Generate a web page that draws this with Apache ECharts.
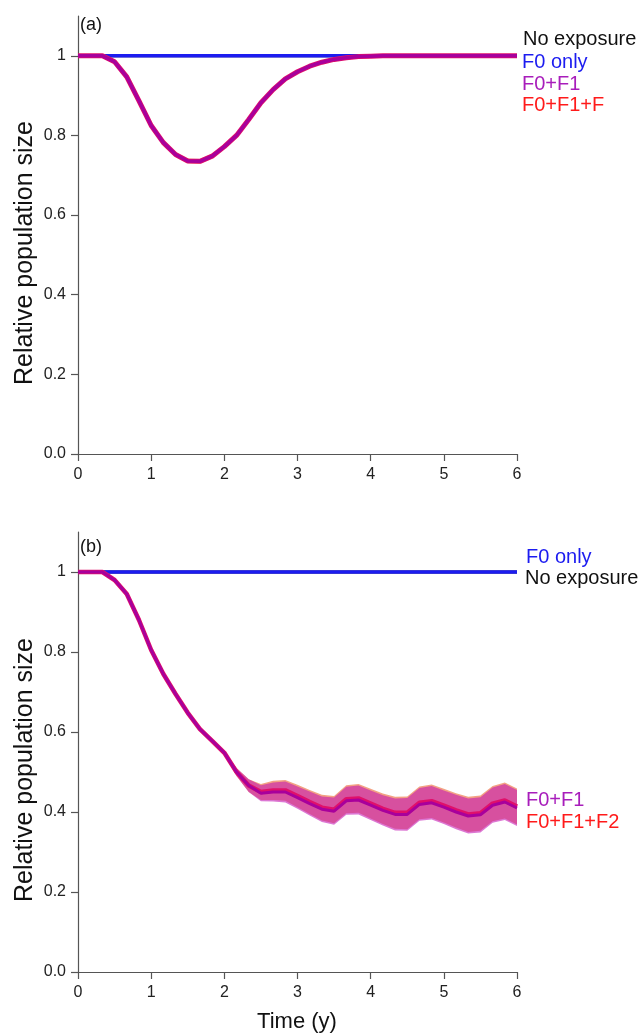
<!DOCTYPE html>
<html>
<head>
<meta charset="utf-8">
<script src="https://cdn.jsdelivr.net/npm/echarts@6/dist/echarts.min.js"></script>
<style>
html,body{margin:0;padding:0;background:#fff;}
#c{width:642px;height:1036px;}
</style>
</head>
<body>
<div id="c"></div>
<script>
// ---------- data ----------
const time = [0, 0.1667, 0.3333, 0.5, 0.6667, 0.8333, 1, 1.1667, 1.3333, 1.5, 1.6667, 1.8333, 2, 2.1667, 2.3333, 2.5, 2.6667, 2.8333, 3, 3.1667, 3.3333, 3.5, 3.6667, 3.8333, 4, 4.1667, 4.3333, 4.5, 4.6667, 4.8333, 5, 5.1667, 5.3333, 5.5, 5.6667, 5.8333, 6];
const xTicks = [0, 1, 2, 3, 4, 5, 6];
const yTicks = [0, 0.2, 0.4, 0.6, 0.8, 1];

// panel (a)
const noExposureA = [1,1,1,1,1,1,1,1,1,1,1,1,1,1,1,1,1,1,1,1,1,1,1,1,1,1,1,1,1,1,1,1,1,1,1,1,1];
const f0OnlyA     = [1,1,1,1,1,1,1,1,1,1,1,1,1,1,1,1,1,1,1,1,1,1,1,1,1,1,1,1,1,1,1,1,1,1,1,1,1];
const f0f1A       = [1,1,1,0.985,0.947,0.887,0.825,0.782,0.752,0.736,0.735,0.748,0.772,0.800,0.840,0.882,0.915,0.942,0.960,0.974,0.984,0.991,0.995,0.998,0.999,1,1,1,1,1,1,1,1,1,1,1,1];
const f0f1f2A     = [1,1,1,0.985,0.947,0.887,0.825,0.782,0.752,0.736,0.735,0.748,0.772,0.800,0.840,0.882,0.915,0.942,0.960,0.974,0.984,0.991,0.995,0.998,0.999,1,1,1,1,1,1,1,1,1,1,1,1];
const lowerA      = [1,1,1,0.982,0.942,0.881,0.819,0.776,0.746,0.730,0.729,0.742,0.766,0.794,0.835,0.877,0.911,0.939,0.958,0.972,0.983,0.990,0.994,0.997,0.998,1,1,1,1,1,1,1,1,1,1,1,1];
const upperA      = [1,1,1,0.988,0.952,0.893,0.831,0.788,0.758,0.742,0.741,0.754,0.778,0.806,0.845,0.887,0.919,0.945,0.962,0.976,0.985,0.992,0.996,0.999,1,1,1,1,1,1,1,1,1,1,1,1,1];

// panel (b)
const noExposureB = [1,1,1,1,1,1,1,1,1,1,1,1,1,1,1,1,1,1,1,1,1,1,1,1,1,1,1,1,1,1,1,1,1,1,1,1,1];
const f0OnlyB     = [1,1,1,1,1,1,1,1,1,1,1,1,1,1,1,1,1,1,1,1,1,1,1,1,1,1,1,1,1,1,1,1,1,1,1,1,1];
const f0f1B       = [1,1,1,0.980,0.945,0.880,0.805,0.745,0.695,0.648,0.607,0.578,0.548,0.500,0.466,0.447,0.450,0.450,0.436,0.421,0.407,0.402,0.428,0.430,0.417,0.404,0.394,0.394,0.419,0.423,0.412,0.400,0.390,0.393,0.417,0.425,0.410];
const f0f1f2B     = [1,1,1,0.980,0.945,0.880,0.805,0.745,0.695,0.648,0.607,0.578,0.548,0.500,0.466,0.450,0.454,0.454,0.440,0.425,0.411,0.406,0.432,0.434,0.421,0.408,0.398,0.398,0.423,0.427,0.416,0.404,0.394,0.397,0.421,0.429,0.414];
const lowerB1     = [0.996,0.996,0.996,0.976,0.941,0.876,0.801,0.741,0.691,0.644,0.603,0.574,0.544,0.490,0.450,0.427,0.426,0.424,0.408,0.391,0.375,0.368,0.393,0.394,0.380,0.366,0.354,0.353,0.378,0.381,0.370,0.357,0.346,0.349,0.373,0.380,0.365];
const upperB1     = [1.004,1.004,1.004,0.984,0.949,0.884,0.809,0.749,0.699,0.652,0.611,0.582,0.552,0.510,0.482,0.467,0.474,0.476,0.464,0.451,0.439,0.436,0.463,0.466,0.454,0.442,0.434,0.435,0.460,0.465,0.454,0.443,0.434,0.437,0.461,0.470,0.455];
const lowerB2     = [0.996,0.996,0.996,0.976,0.941,0.876,0.801,0.741,0.691,0.644,0.603,0.574,0.544,0.490,0.450,0.430,0.430,0.428,0.412,0.395,0.379,0.372,0.397,0.398,0.384,0.370,0.358,0.357,0.382,0.385,0.374,0.361,0.350,0.353,0.377,0.384,0.369];
const upperB2     = [1.004,1.004,1.004,0.984,0.949,0.884,0.809,0.749,0.699,0.652,0.611,0.582,0.552,0.510,0.482,0.470,0.478,0.480,0.468,0.455,0.443,0.440,0.467,0.470,0.458,0.446,0.438,0.439,0.464,0.469,0.458,0.447,0.438,0.441,0.465,0.474,0.459];

// ---------- styling ----------
const FONT = 'Liberation Sans, Arial, Helvetica, sans-serif';
const C_BLACK = '#111111', C_BLUE = '#1c1cf0', C_PURPLE = '#a81dbb', C_RED = '#ff1a1a';
const LINE_PURPLE = '#a8009c', LINE_RED = '#e0106a';
const BAND_RED = 'rgba(235,100,50,0.6)', BAND_PURPLE = 'rgba(195,20,180,0.58)';

function pts(ys) { return time.map((t, i) => [t, ys[i]]); }
function lineS(idx, ys, color, width, z) {
  return { type: 'line', xAxisIndex: idx, yAxisIndex: idx, data: pts(ys), showSymbol: false, symbol: 'none',
           lineStyle: { color: color, width: width }, z: z, silent: true };
}
// band drawn as one polygon through the axes' own coordinate mapping
function bandS(idx, lo, hi, color, z) {
  return {
    type: 'custom', xAxisIndex: idx, yAxisIndex: idx, coordinateSystem: 'cartesian2d', z: z, silent: true,
    data: time.map((t, i) => [t, lo[i], hi[i]]),
    encode: { x: 0, y: [1, 2] },
    clip: true,
    renderItem: function (params, api) {
      if (params.dataIndex !== 0) return null;
      const poly = [];
      for (let i = 0; i < time.length; i++) poly.push(api.coord([time[i], hi[i]]));
      for (let i = time.length - 1; i >= 0; i--) poly.push(api.coord([time[i], lo[i]]));
      return { type: 'polygon', shape: { points: poly }, style: { fill: color, stroke: null } };
    }
  };
}
function xAx(idx) {
  return { type: 'value', gridIndex: idx, min: 0, max: 6, interval: 1,
    axisLine: { show: true, lineStyle: { color: '#555', width: 1.2 } },
    axisTick: { show: true, inside: false, length: 7, lineStyle: { color: '#555', width: 1.2 }, customValues: xTicks },
    axisLabel: { customValues: xTicks, margin: 13, fontSize: 16, color: '#222', fontFamily: FONT },
    splitLine: { show: false } };
}
function yAx(idx) {
  return { type: 'value', gridIndex: idx, min: 0, max: 1.1, interval: 0.2,
    axisLine: { show: true, onZero: false, lineStyle: { color: '#555', width: 1.2 } },
    axisTick: { show: true, inside: false, length: 7, lineStyle: { color: '#555', width: 1.2 }, customValues: yTicks },
    axisLabel: { customValues: yTicks, margin: 12, fontSize: 16, color: '#222', fontFamily: FONT,
      formatter: v => (v === 0 ? '0.0' : (Math.abs(v - 1) < 1e-9 ? '1' : v.toFixed(1))) },
    splitLine: { show: false } };
}
function txt(x, y, s, color, size, extra) {
  return Object.assign({ type: 'text', x: x, y: y, silent: true,
    style: { text: s, fill: color, font: size + 'px ' + FONT, textAlign: 'left', textVerticalAlign: 'middle' } }, extra || {});
}

const series = [
  bandS(0, lowerA, upperA, BAND_RED, 2),
  lineS(0, noExposureA, C_BLACK, 3, 3), lineS(0, f0OnlyA, C_BLUE, 3.5, 4),
  lineS(0, f0f1f2A, LINE_RED, 5, 5), lineS(0, f0f1A, LINE_PURPLE, 3.5, 6),
  bandS(1, lowerB2, upperB2, BAND_RED, 1),
  bandS(1, lowerB1, upperB1, BAND_PURPLE, 2),
  lineS(1, noExposureB, C_BLACK, 3, 3), lineS(1, f0OnlyB, C_BLUE, 3.5, 4),
  lineS(1, f0f1f2B, LINE_RED, 4.5, 5), lineS(1, f0f1B, LINE_PURPLE, 3, 6)
];

const chart = echarts.init(document.getElementById('c'), null, { renderer: 'canvas' });
chart.setOption({
  animation: false,
  backgroundColor: '#ffffff',
  grid: [
    { left: 78, right: 125, top: 16, height: 438 },
    { left: 78, right: 125, top: 532, height: 440 }
  ],
  xAxis: [xAx(0), xAx(1)],
  yAxis: [yAx(0), yAx(1)],
  series: series,
  graphic: [
    txt(80, 25, '(a)', '#111', 18),
    txt(80, 547, '(b)', '#111', 18),
    txt(523, 39, 'No exposure', C_BLACK, 20),
    txt(522, 62, 'F0 only', C_BLUE, 20),
    txt(522, 84, 'F0+F1', C_PURPLE, 20),
    txt(522, 105, 'F0+F1+F', C_RED, 20),
    txt(526, 557, 'F0 only', C_BLUE, 20),
    txt(525, 578, 'No exposure', C_BLACK, 20),
    txt(526, 800, 'F0+F1', C_PURPLE, 20),
    txt(526, 822, 'F0+F1+F2', C_RED, 20),
    { type: 'text', x: 25, y: 253, rotation: Math.PI / 2, silent: true,
      style: { text: 'Relative population size', fill: '#111', font: '25px ' + FONT, textAlign: 'center', textVerticalAlign: 'middle' } },
    { type: 'text', x: 25, y: 770, rotation: Math.PI / 2, silent: true,
      style: { text: 'Relative population size', fill: '#111', font: '25px ' + FONT, textAlign: 'center', textVerticalAlign: 'middle' } },
    { type: 'text', x: 297, y: 1022, silent: true,
      style: { text: 'Time (y)', fill: '#111', font: '22px ' + FONT, textAlign: 'center', textVerticalAlign: 'middle' } }
  ]
});
</script>
</body>
</html>
